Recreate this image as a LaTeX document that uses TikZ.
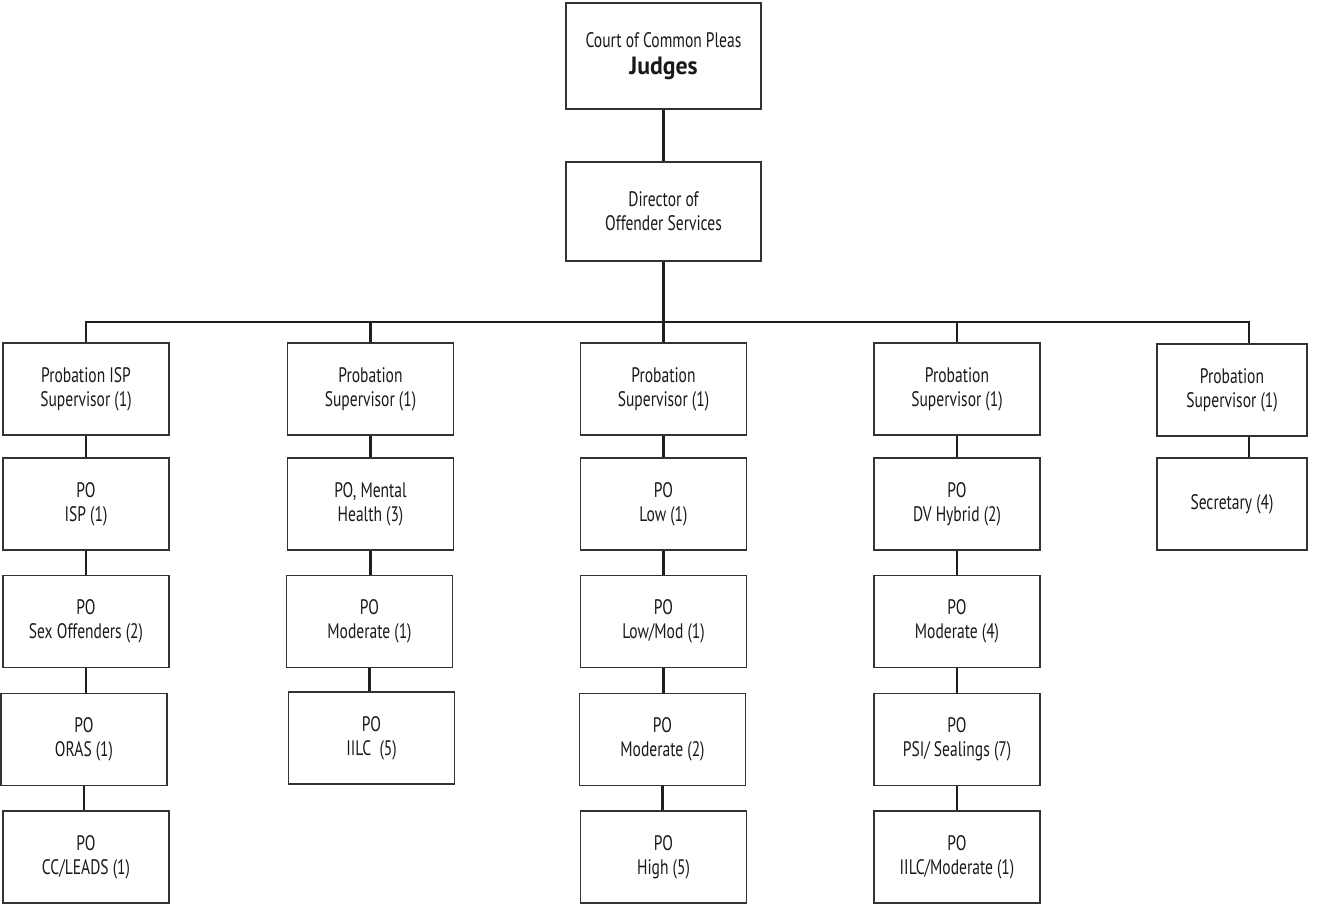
\documentclass[tikz,border=0pt]{standalone}
\usepackage{fontspec}
\setmainfont[FakeStretch=0.74]{PT Sans}
\newfontfamily\titolofont[FakeStretch=0.95]{PT Sans}
\usetikzlibrary{positioning}

\tikzset{
    box/.style={draw=black!80, line width=1.3pt, minimum width=166pt, minimum height=92pt,
        inner sep=0pt, align=center, text=black!90, font=\fontsize{21}{24}\selectfont},
    boxstretta/.style={box, minimum width=150pt},
    link/.style={line width=2.6pt, draw=black!88},
}

\begin{document}
\begin{tikzpicture}[x=1pt, y=-1pt]
    \useasboundingbox (0,0) rectangle (1325,904);
    % Parametri
    \pgfmathsetmacro{\xa}{86}
    \pgfmathsetmacro{\xb}{370.5}
    \pgfmathsetmacro{\xc}{663.5}
    \pgfmathsetmacro{\xd}{957}
    \pgfmathsetmacro{\xe}{1232}
    \pgfmathsetmacro{\ya}{389}
    \pgfmathsetmacro{\yb}{504}
    \pgfmathsetmacro{\yc}{621.5}
    \pgfmathsetmacro{\yd}{739.5}
    \pgfmathsetmacro{\ye}{857}
    \pgfmathsetmacro{\sbarra}{322}
    % Vertice
    \node[box, minimum width=195pt, minimum height=106pt] (judges) at (663.5,56)
        {Court of Common Pleas\\[3pt]{\titolofont\fontsize{25}{28}\selectfont\bfseries Judges}};
    \node[box, minimum width=195pt, minimum height=99pt] (dir) at (663.5,211.5)
        {Director of\\Offender Services};
    % Colonna 1
    \node[box] (a1) at (\xa,\ya) {Probation ISP\\Supervisor (1)};
    \node[box] (a2) at (\xa,\yb) {PO\\ISP (1)};
    \node[box] (a3) at (\xa,\yc) {PO\\Sex Offenders (2)};
    \node[box] (a4) at (\xa-2,\yd) {PO\\ORAS (1)};
    \node[box] (a5) at (\xa,\ye) {PO\\CC/LEADS (1)};
    % Colonna 2
    \node[box] (b1) at (\xb,\ya) {Probation\\Supervisor (1)};
    \node[box] (b2) at (\xb,\yb) {PO, Mental\\Health (3)};
    \node[box] (b3) at (\xb-1,\yc) {PO\\Moderate (1)};
    \node[box] (b4) at (\xb+1,\yd-1.5) {PO\\IILC\ \ (5)};
    % Colonna 3
    \node[box] (c1) at (\xc,\ya) {Probation\\Supervisor (1)};
    \node[box] (c2) at (\xc,\yb) {PO\\Low (1)};
    \node[box] (c3) at (\xc,\yc) {PO\\Low/Mod (1)};
    \node[box] (c4) at (\xc-1,\yd) {PO\\Moderate (2)};
    \node[box] (c5) at (\xc,\ye) {PO\\High (5)};
    % Colonna 4
    \node[box] (d1) at (\xd,\ya) {Probation\\Supervisor (1)};
    \node[box] (d2) at (\xd,\yb) {PO\\DV Hybrid (2)};
    \node[box] (d3) at (\xd,\yc) {PO\\Moderate (4)};
    \node[box] (d4) at (\xd,\yd) {PO\\PSI/ Sealings (7)};
    \node[box] (d5) at (\xd,\ye) {PO\\IILC/Moderate (1)};
    % Colonna 5
    \node[boxstretta] (e1) at (\xe,\ya+1) {Probation\\Supervisor (1)};
    \node[boxstretta] (e2) at (\xe,\yb) {Secretary (4)};
    % Collegamenti
    \coordinate (barra) at (0,\sbarra);
    \coordinate (e1top) at ([xshift=17pt]e1.north);
    \draw[link] (judges) -- (dir);
    \draw[link] (dir) -- (dir |- barra);
    \draw[link] (a1.north) -- (a1.north |- barra) -- (e1top |- barra) -- (e1top);
    \foreach \n in {b,c,d}{
        \draw[link] (\n1.north) -- (\n1.north |- barra);
    }
    \foreach \n/\k in {a/4,b/3,c/4,d/4}{
        \foreach \r [count=\s from 2] in {1,...,\k}{
            \draw[link] (\n\r.south) -- (\n\r.south |- \n\s.north);
        }
    }
    \draw[link] ([xshift=17pt]e1.south) -- ([xshift=17pt]e1.south |- e2.north);
\end{tikzpicture}
\end{document}
